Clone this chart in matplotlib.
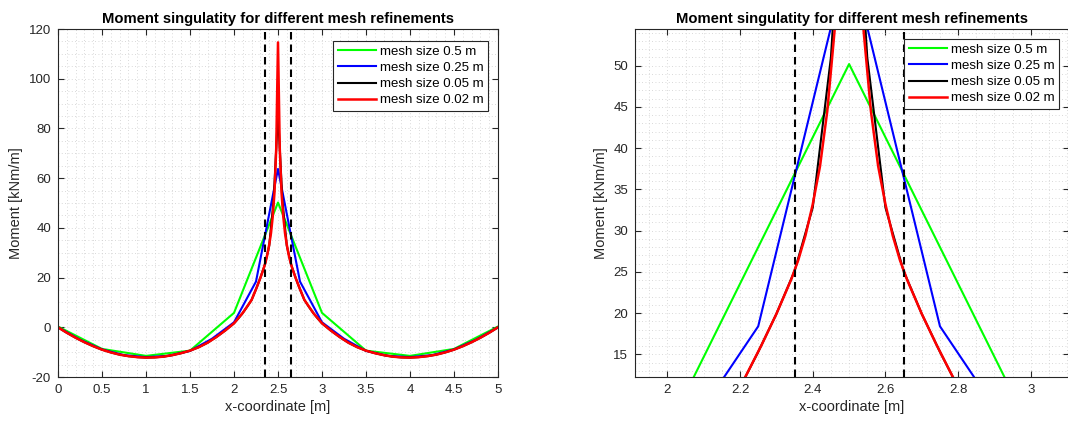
import matplotlib

matplotlib.use("Agg")
import matplotlib.pyplot as plt
from matplotlib.ticker import FuncFormatter, MultipleLocator

plt.rcParams["font.family"] = ["Liberation Sans", "DejaVu Sans"]

# bending moment along the section, one series per mesh size
x_05 = [0.0, 0.5, 1.0, 1.5, 2.0, 2.5, 3.0, 3.5, 4.0, 4.5, 5.0]
m_05 = [0.3, -8.7, -11.5, -9.4, 5.8, 50.2, 5.8, -9.4, -11.5, -8.7, 0.3]

x_025 = [0.0, 0.25, 0.5, 0.75, 1.0, 1.25, 1.5, 1.75, 2.0, 2.25, 2.5,
         2.75, 3.0, 3.25, 3.5, 3.75, 4.0, 4.25, 4.5, 4.75, 5.0]
m_025 = [0.0, -5.0, -8.9, -11.2, -12.0, -11.5, -9.5, -4.6, 2.0, 18.4, 63.7,
         18.4, 2.0, -4.6, -9.5, -11.5, -12.0, -11.2, -8.9, -5.0, 0.0]

x_005 = [0.0, 0.1, 0.2, 0.3, 0.4, 0.5, 0.6, 0.7, 0.8, 0.9, 1.0,
         1.1, 1.2, 1.3, 1.4, 1.5, 1.6, 1.7, 1.8, 1.9, 2.0,
         2.05, 2.1, 2.15, 2.2, 2.25, 2.3, 2.35, 2.4, 2.45, 2.5,
         2.55, 2.6, 2.65, 2.7, 2.75, 2.8, 2.85, 2.9, 2.95, 3.0,
         3.1, 3.2, 3.3, 3.4, 3.5, 3.6, 3.7, 3.8, 3.9, 4.0,
         4.1, 4.2, 4.3, 4.4, 4.5, 4.6, 4.7, 4.8, 4.9, 5.0]
m_005 = [0.0, -2.2, -4.2, -6.0, -7.6, -9.0, -10.1, -11.0, -11.6, -12.0, -12.2,
         -12.1, -11.8, -11.2, -10.4, -9.4, -8.0, -6.2, -3.9, -1.3, 1.6,
         3.6, 5.8, 8.3, 11.0, 15.3, 19.9, 25.1, 32.8, 51.0, 86.0,
         51.0, 32.8, 25.1, 19.9, 15.3, 11.0, 8.3, 5.8, 3.6, 1.6,
         -1.3, -3.9, -6.2, -8.0, -9.4, -10.4, -11.2, -11.8, -12.1, -12.2,
         -12.0, -11.6, -11.0, -10.1, -9.0, -7.6, -6.0, -4.2, -2.2, 0.0]

x_002 = [0.0, 0.1, 0.2, 0.3, 0.4, 0.5, 0.6, 0.7, 0.8, 0.9, 1.0,
         1.1, 1.2, 1.3, 1.4, 1.5, 1.6, 1.7, 1.8, 1.9, 2.0,
         2.1, 2.2, 2.26, 2.3, 2.34, 2.36, 2.38, 2.4, 2.42, 2.44, 2.46, 2.48, 2.5,
         2.52, 2.54, 2.56, 2.58, 2.6, 2.62, 2.64, 2.66, 2.7, 2.74, 2.8, 2.9, 3.0,
         3.1, 3.2, 3.3, 3.4, 3.5, 3.6, 3.7, 3.8, 3.9, 4.0,
         4.1, 4.2, 4.3, 4.4, 4.5, 4.6, 4.7, 4.8, 4.9, 5.0]
m_002 = [0.0, -2.2, -4.2, -6.0, -7.6, -9.0, -10.1, -11.0, -11.6, -12.0, -12.2,
         -12.1, -11.8, -11.2, -10.4, -9.4, -8.0, -6.2, -3.9, -1.3, 1.6,
         5.8, 11.0, 16.2, 19.9, 24.0, 26.4, 29.4, 33.2, 37.8, 44.5, 54.2, 72.0, 114.6,
         72.0, 54.2, 44.5, 37.8, 33.2, 29.4, 26.4, 24.0, 19.9, 16.2, 11.0, 5.8, 1.6,
         -1.3, -3.9, -6.2, -8.0, -9.4, -10.4, -11.2, -11.8, -12.1, -12.2,
         -12.0, -11.6, -11.0, -10.1, -9.0, -7.6, -6.0, -4.2, -2.2, 0.0]

labels = ["mesh size 0.5 m", "mesh size 0.25 m", "mesh size 0.05 m", "mesh size 0.02 m"]
colors = ["#00ff00", "#0000ff", "#000000", "#ff0000"]
widths = [1.5, 1.5, 1.5, 1.8]

# edges of the loaded region
support_edges = [2.35, 2.65]

AXES_GREY = "#262626"


def draw_panel(fig, rect, xlim, ylim, xstep, xminor, ystep, yminor, legend_xy):
    ax = fig.add_axes(rect)
    series = [(x_05, m_05), (x_025, m_025), (x_005, m_005), (x_002, m_002)]
    for (xs, ms), label, color, lw in zip(series, labels, colors, widths):
        ax.plot(xs, ms, color=color, lw=lw, label=label)
    for edge in support_edges:
        ax.axvline(edge, color="black", lw=1.5, linestyle=(0, (3.6, 2.4)), zorder=3)

    ax.set_xlim(*xlim)
    ax.set_ylim(*ylim)
    ax.xaxis.set_major_locator(MultipleLocator(xstep))
    ax.xaxis.set_minor_locator(MultipleLocator(xminor))
    ax.yaxis.set_major_locator(MultipleLocator(ystep))
    ax.yaxis.set_minor_locator(MultipleLocator(yminor))
    fmt = FuncFormatter(lambda v, _: "%g" % round(v, 6))
    ax.xaxis.set_major_formatter(fmt)
    ax.yaxis.set_major_formatter(fmt)

    ax.grid(which="both", color="#cdcdcd", lw=0.6, linestyle=(0, (1, 3)))
    ax.set_axisbelow(True)
    ax.tick_params(which="major", direction="in", length=4, width=0.8,
                   top=True, right=True, colors=AXES_GREY, labelsize=9.5, pad=5)
    ax.tick_params(which="minor", length=0, top=True, right=True)
    for spine in ax.spines.values():
        spine.set_color(AXES_GREY)
        spine.set_linewidth(0.8)

    ax.set_title("Moment singulatity for different mesh refinements",
                 fontsize=10.6, fontweight="bold", pad=4)
    ax.set_xlabel("x-coordinate [m]", fontsize=10.5, color=AXES_GREY, labelpad=3)
    ax.set_ylabel("Moment [kNm/m]", fontsize=10.5, color=AXES_GREY, labelpad=4)

    leg = ax.legend(loc="upper right", bbox_to_anchor=legend_xy, fontsize=9.5,
                    frameon=True, fancybox=False, framealpha=1, edgecolor=AXES_GREY,
                    handlelength=2.9, handletextpad=0.3, labelspacing=0.3,
                    borderpad=0.35, borderaxespad=0)
    leg.get_frame().set_linewidth(0.8)
    return ax


fig = plt.figure(figsize=(10.68, 4.21), dpi=100)

W, H = 1068.0, 421.0
draw_panel(fig, [58 / W, 44 / H, 440 / W, 348 / H],
           (0, 5), (-20, 120), 0.5, 0.1, 20, 5,
           ((488 - 58) / 440, (377 - 41) / 348))
draw_panel(fig, [635 / W, 44 / H, 434 / W, 348 / H],
           (1.911, 3.105), (12.25, 54.45), 0.2, 0.05, 5, 1,
           ((1059 - 635) / 434, (377 - 39) / 348))

fig.savefig("out.png", dpi=100)
